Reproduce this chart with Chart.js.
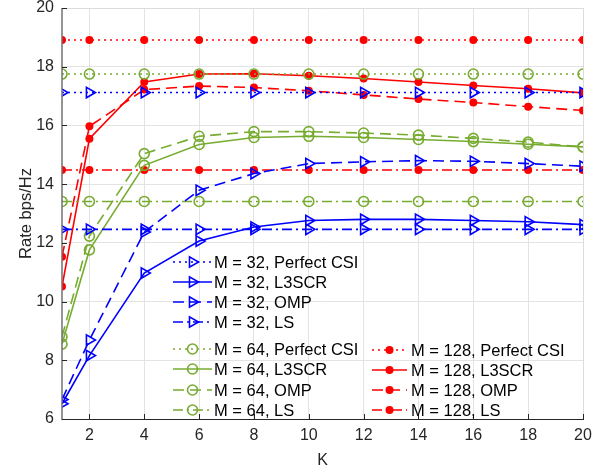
<!DOCTYPE html>
<html>
<head>
<meta charset="utf-8">
<script src="https://cdn.jsdelivr.net/npm/chart.js@4"></script>
<style>
html, body { margin: 0; padding: 0; background: #fff; }
#wrap { width: 609px; height: 470px; }
</style>
</head>
<body>
<div id="wrap"><canvas id="plot"></canvas></div>
<script>
// K values (x axis)
const K = [1, 2, 4, 6, 8, 10, 12, 14, 16, 18, 20];
const xTicks = [2, 4, 6, 8, 10, 12, 14, 16, 18, 20];
const yTicks = [6, 8, 10, 12, 14, 16, 18, 20];

// M = 32
const perf32 = [17.12, 17.12, 17.12, 17.12, 17.12, 17.12, 17.12, 17.12, 17.12, 17.12, 17.12];
const l3scr32 = [6.52, 8.16, 10.97, 12.06, 12.54, 12.76, 12.80, 12.80, 12.76, 12.72, 12.62];
const omp32 = [6.66, 8.69, 12.37, 13.79, 14.36, 14.70, 14.76, 14.80, 14.78, 14.70, 14.61];
const ls32 = [12.46, 12.46, 12.46, 12.46, 12.46, 12.46, 12.46, 12.46, 12.46, 12.46, 12.46];

// M = 64
const perf64 = [17.75, 17.75, 17.75, 17.75, 17.75, 17.75, 17.75, 17.75, 17.75, 17.75, 17.75];
const l3scr64 = [8.55, 11.76, 14.64, 15.35, 15.59, 15.63, 15.59, 15.52, 15.45, 15.36, 15.27];
const omp64 = [8.80, 12.23, 15.04, 15.63, 15.79, 15.79, 15.74, 15.67, 15.56, 15.43, 15.27];
const ls64 = [13.41, 13.41, 13.41, 13.41, 13.41, 13.41, 13.41, 13.41, 13.41, 13.41, 13.41];

// M = 128
const perf128 = [18.91, 18.91, 18.91, 18.91, 18.91, 18.91, 18.91, 18.91, 18.91, 18.91, 18.91];
const l3scr128 = [10.51, 15.55, 17.48, 17.75, 17.76, 17.69, 17.60, 17.48, 17.36, 17.25, 17.11];
const omp128 = [11.53, 15.97, 17.22, 17.34, 17.29, 17.18, 17.04, 16.90, 16.78, 16.64, 16.51];
const ls128 = [14.48, 14.48, 14.48, 14.48, 14.48, 14.48, 14.48, 14.48, 14.48, 14.48, 14.48];

const FONT = '"Liberation Sans", Arial, sans-serif';
const BLUE = '#0000ff';
const GREEN = '#77ac30';
const RED = '#ff0000';

const dashes = {
	perf: [2, 4],
	l3scr: [],
	omp: [11, 6],
	ls: [10, 4, 2, 4],
};

const markers = {
	32: {pointStyle: 'triangle', pointRotation: 90, pointRadius: 6, pointBackgroundColor: 'rgba(0,0,0,0)'},
	64: {pointStyle: 'circle', pointRotation: 0, pointRadius: 5, pointBackgroundColor: 'rgba(0,0,0,0)'},
	128: {pointStyle: 'circle', pointRotation: 0, pointRadius: 3.2, pointBackgroundColor: RED},
};

const series = [
	{m: 32, kind: 'perf', name: 'Perfect CSI', data: perf32, color: BLUE},
	{m: 32, kind: 'l3scr', name: 'L3SCR', data: l3scr32, color: BLUE},
	{m: 32, kind: 'omp', name: 'OMP', data: omp32, color: BLUE},
	{m: 32, kind: 'ls', name: 'LS', data: ls32, color: BLUE},
	{m: 64, kind: 'perf', name: 'Perfect CSI', data: perf64, color: GREEN},
	{m: 64, kind: 'l3scr', name: 'L3SCR', data: l3scr64, color: GREEN},
	{m: 64, kind: 'omp', name: 'OMP', data: omp64, color: GREEN},
	{m: 64, kind: 'ls', name: 'LS', data: ls64, color: GREEN},
	{m: 128, kind: 'perf', name: 'Perfect CSI', data: perf128, color: RED},
	{m: 128, kind: 'l3scr', name: 'L3SCR', data: l3scr128, color: RED},
	{m: 128, kind: 'omp', name: 'OMP', data: omp128, color: RED},
	{m: 128, kind: 'ls', name: 'LS', data: ls128, color: RED},
];

const datasets = series.map((s) => ({
	label: `M = ${s.m}, ${s.name}`,
	data: s.data.map((v, i) => ({x: K[i], y: v})),
	borderColor: s.color,
	borderWidth: 1.6,
	borderDash: dashes[s.kind],
	pointBorderColor: s.color,
	pointBorderWidth: 1.6,
	...markers[s.m],
	tension: 0,
	fill: false,
}));

// legend layout: two blocks stacked in column 1, one block in column 2
const legendCols = [
	{x0: 173, x1: 212, tx: 214, rows: [262, 282, 302, 322, 349, 369, 390, 410], from: 0},
	{x0: 372, x1: 407, tx: 411, rows: [350, 370, 390, 410], from: 8},
];

const matlabAxes = {
	id: 'matlabAxes',
	afterDatasetsDraw(chart) {
		const {ctx, chartArea: a, scales} = chart;
		ctx.save();
		ctx.setLineDash([]);
		// box (top / right light)
		ctx.strokeStyle = '#dcdcdc';
		ctx.lineWidth = 1;
		ctx.beginPath();
		ctx.moveTo(a.left, a.top + 0.5);
		ctx.lineTo(a.right + 0.5, a.top + 0.5);
		ctx.lineTo(a.right + 0.5, a.bottom);
		ctx.stroke();
		// axes
		ctx.strokeStyle = '#262626';
		ctx.beginPath();
		ctx.moveTo(a.left, a.bottom + 0.5);
		ctx.lineTo(a.right + 1, a.bottom + 0.5);
		ctx.stroke();
		ctx.strokeStyle = '#707070';
		ctx.lineWidth = 1.5;
		ctx.beginPath();
		ctx.moveTo(a.left, a.top);
		ctx.lineTo(a.left, a.bottom + 1);
		ctx.stroke();
		// inward tick marks
		ctx.strokeStyle = '#262626';
		ctx.lineWidth = 1;
		ctx.beginPath();
		xTicks.forEach((v) => {
			const x = Math.round(scales.x.getPixelForValue(v)) + 0.5;
			ctx.moveTo(x, a.bottom);
			ctx.lineTo(x, a.bottom - 5);
		});
		yTicks.forEach((v) => {
			const y = Math.round(scales.y.getPixelForValue(v)) + 0.5;
			ctx.moveTo(a.left, y);
			ctx.lineTo(a.left + 5, y);
		});
		ctx.stroke();

		// legend
		ctx.font = `16.5px ${FONT}`;
		ctx.textBaseline = 'middle';
		ctx.textAlign = 'left';
		legendCols.forEach((col) => {
			col.rows.forEach((y, r) => {
				const ds = chart.data.datasets[col.from + r];
				ctx.save();
				ctx.strokeStyle = ds.borderColor;
				ctx.lineWidth = ds.borderWidth;
				ctx.setLineDash(ds.borderDash);
				ctx.beginPath();
				ctx.moveTo(col.x0, y);
				ctx.lineTo(col.x1, y);
				ctx.stroke();
				ctx.setLineDash([]);
				ctx.fillStyle = ds.pointBackgroundColor;
				ctx.strokeStyle = ds.pointBorderColor;
				ctx.lineWidth = ds.pointBorderWidth;
				Chart.helpers.drawPoint(ctx, {
					pointStyle: ds.pointStyle,
					rotation: ds.pointRotation,
					radius: ds.pointRadius,
					borderWidth: ds.pointBorderWidth,
				}, (col.x0 + col.x1) / 2, y);
				ctx.restore();
				ctx.fillStyle = '#000';
				ctx.fillText(ds.label, col.tx, y + 1);
			});
		});
		ctx.restore();
	},
};

const ctx = document.getElementById('plot').getContext('2d');
new Chart(ctx, {
	type: 'line',
	data: {datasets},
	plugins: [matlabAxes],
	options: {
		responsive: true,
		maintainAspectRatio: false,
		animation: false,
		devicePixelRatio: 1,
		layout: {padding: {top: 8, right: 26, left: 0, bottom: 0}},
		plugins: {
			legend: {display: false},
			tooltip: {enabled: false},
		},
		scales: {
			x: {
				type: 'linear',
				min: 1,
				max: 20,
				afterBuildTicks: (scale) => {
					scale.ticks = xTicks.map((v) => ({value: v}));
				},
				afterFit: (scale) => {
					scale.height = 51;
					scale.paddingLeft = 0;
					scale.paddingRight = 0;
				},
				grid: {color: '#e3e3e3', drawTicks: false},
				border: {display: false},
				ticks: {
					color: '#262626',
					padding: 7,
					maxRotation: 0,
					autoSkip: false,
					font: {family: FONT, size: 16},
				},
				title: {
					display: true,
					text: 'K',
					color: '#262626',
					padding: {top: 2, bottom: 0},
					font: {family: FONT, size: 16},
				},
			},
			y: {
				type: 'linear',
				min: 6,
				max: 20,
				afterBuildTicks: (scale) => {
					scale.ticks = yTicks.map((v) => ({value: v}));
				},
				afterFit: (scale) => {
					scale.width = 62;
					scale.paddingTop = 0;
					scale.paddingBottom = 0;
				},
				grid: {color: '#e3e3e3', drawTicks: false},
				border: {display: false},
				ticks: {
					color: '#262626',
					padding: 8,
					autoSkip: false,
					font: {family: FONT, size: 16},
				},
				title: {
					display: true,
					text: 'Rate bps/Hz',
					color: '#262626',
					padding: {top: 17, bottom: 0},
					font: {family: FONT, size: 16.5},
				},
			},
		},
	},
});
</script>
</body>
</html>
